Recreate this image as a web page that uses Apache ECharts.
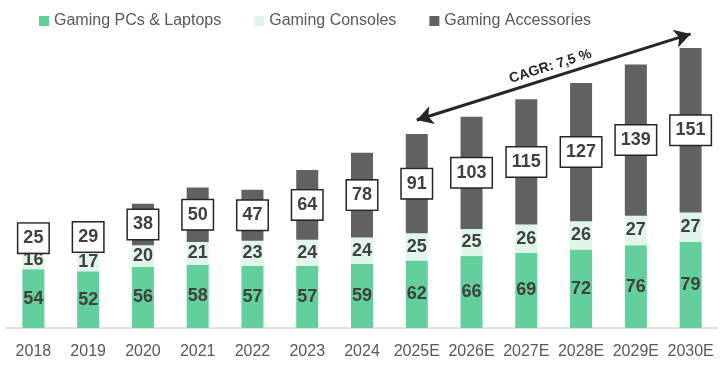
<!DOCTYPE html>
<html>
<head>
<meta charset="utf-8">
<script src="https://cdn.jsdelivr.net/npm/echarts@6/dist/echarts.min.js"></script>
<style>html,body{margin:0;padding:0;background:#fff;}#c{width:724px;height:370px;}</style>
</head>
<body>
<div id="c"></div>
<script>
const categories = ['2018','2019','2020','2021','2022','2023','2024','2025E','2026E','2027E','2028E','2029E','2030E'];
const pcs = [54,52,56,58,57,57,59,62,66,69,72,76,79];
const consoles = [16,17,20,21,23,24,24,25,25,26,26,27,27];
const accessories = [25,29,38,50,47,64,78,91,103,115,127,139,151];
const cagrText = 'CAGR: 7,5 %';
const cagrFrom = ['2025E', 191];
const cagrTo = ['2030E', 270];

const chart = echarts.init(document.getElementById('c'));
const labelFont = 'Liberation Sans';
const valueLabel = {
  show: true, position: 'inside', color: '#404040',
  fontFamily: labelFont, fontWeight: 'bold', fontSize: 18
};
chart.setOption({
  animation: false,
  textStyle: { fontFamily: 'Liberation Sans' },
  legend: {
    left: 34, top: 8, itemWidth: 10, itemHeight: 10, itemGap: 33, icon: 'rect',
    textStyle: { color: '#595959', fontSize: 16, fontFamily: 'Liberation Sans' },
    data: ['Gaming PCs & Laptops', 'Gaming Consoles', 'Gaming Accessories']
  },
  grid: { left: 6, right: 6, top: 23, bottom: 42, containLabel: false },
  xAxis: {
    type: 'category', data: categories,
    axisLine: { lineStyle: { color: '#D9D9D9', width: 1.5 } },
    axisTick: { show: false },
    axisLabel: { color: '#595959', fontSize: 16, margin: 16, interval: 0, fontFamily: 'Liberation Sans' }
  },
  yAxis: { type: 'value', min: 0, max: 280, show: false, splitLine: { show: false } },
  series: [
    { name: 'Gaming PCs & Laptops', type: 'bar', stack: 't', barWidth: 22,
      itemStyle: { color: '#63CF9D' }, label: valueLabel, data: pcs },
    { name: 'Gaming Consoles', type: 'bar', stack: 't', barWidth: 22,
      itemStyle: { color: '#E0F6EA' }, label: valueLabel, data: consoles },
    { name: 'Gaming Accessories', type: 'bar', stack: 't', barWidth: 22,
      itemStyle: { color: '#616161' },
      label: Object.assign({}, valueLabel, {
        backgroundColor: '#fff', borderColor: '#262626', borderWidth: 1.5,
        padding: [6, 5, 5, 5]
      }),
      data: accessories,
      markLine: {
        silent: true, symbol: ['arrow', 'arrow'], symbolSize: [14, 16],
        lineStyle: { color: '#262626', width: 3, type: 'solid' },
        label: { show: true, position: 'insideMiddleTop', formatter: cagrText,
          color: '#262626', fontWeight: 'bold', fontSize: 14, fontFamily: labelFont, distance: 4 },
        data: [[{ coord: cagrFrom }, { coord: cagrTo }]]
      }
    }
  ]
});
</script>
</body>
</html>
